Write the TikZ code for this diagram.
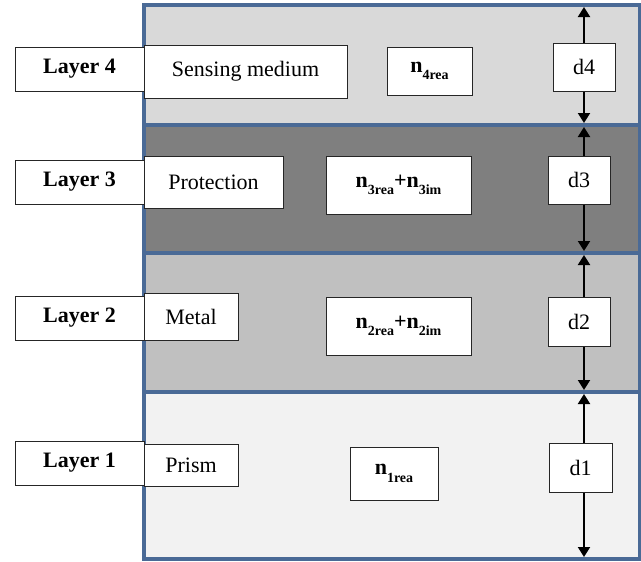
\documentclass[tikz,border=0pt]{standalone}
\usepackage{fontspec}
\setmainfont{Liberation Serif}
\usetikzlibrary{arrows.meta}
\definecolor{bordblue}{HTML}{4A6A96}
\definecolor{lay4}{HTML}{D9D9D9}
\definecolor{lay3}{HTML}{7F7F7F}
\definecolor{lay2}{HTML}{C0C0C0}
\definecolor{lay1}{HTML}{F2F2F2}
\newcommand{\nsub}[2]{\textbf{n}\raisebox{-0.75ex}{\fontsize{14}{14}\selectfont\bfseries #1}\textbf{#2}}
\tikzset{
  layer/.style={draw=bordblue, line width=3.6pt, inner sep=0pt, outer sep=0pt},
  wbox/.style={draw=black!85, line width=1pt, fill=white, inner sep=0pt, outer sep=0pt, font=\fontsize{22}{22}\selectfont},
  lbox/.style={wbox, font=\fontsize{22}{22}\selectfont\bfseries},
  nbox/.style={wbox, font=\fontsize{22}{22}\selectfont},
  darr/.style={{Triangle[length=10pt,width=12pt]}-{Triangle[length=10pt,width=12pt]}, line width=2pt, black},
}
\begin{document}
\begin{tikzpicture}[x=1pt,y=-1pt]
\useasboundingbox (0,0) rectangle (641,562);
% layers
\node[layer, fill=lay4, minimum width=496pt, minimum height=120pt] (L4) at (392,65) {};
\node[layer, fill=lay3, minimum width=496pt, minimum height=128pt] (L3) at (392,189) {};
\node[layer, fill=lay2, minimum width=496pt, minimum height=139pt] (L2) at (392,322.5) {};
\node[layer, fill=lay1, minimum width=496pt, minimum height=167pt] (L1) at (392,475.5) {};
% arrow end points
\coordinate (a4t) at (584,7);   \coordinate (a4b) at (584,123);
\coordinate (a3t) at (584,127); \coordinate (a3b) at (584,251);
\coordinate (a2t) at (584,255); \coordinate (a2b) at (584,390);
\coordinate (a1t) at (584,394); \coordinate (a1b) at (584,557);
\draw[darr] (a4t) -- (a4b);
\draw[darr] (a3t) -- (a3b);
\draw[darr] (a2t) -- (a2b);
\draw[darr] (a1t) -- (a1b);
% thickness boxes
\node[wbox, minimum width=62pt, minimum height=48pt] (d4) at (584,67) {d4};
\node[wbox, minimum width=62pt, minimum height=48pt] (d3) at (579,180) {d3};
\node[wbox, minimum width=62pt, minimum height=49pt] (d2) at (579,321.5) {d2};
\node[wbox, minimum width=63pt, minimum height=49pt] (d1) at (580.5,467.5) {d1};
% index boxes
\node[nbox, minimum width=85pt, minimum height=48pt] (n4) at (429.5,71) {\nsub{4rea}{}};
\node[nbox, minimum width=145pt, minimum height=58pt] (n3) at (398.5,185) {\nsub{3rea}{+}\nsub{3im}{}};
\node[nbox, minimum width=145pt, minimum height=58pt] (n2) at (398.5,326) {\nsub{2rea}{+}\nsub{2im}{}};
\node[nbox, minimum width=88pt, minimum height=53pt] (n1) at (394,473.5) {\nsub{1rea}{}};
% material boxes
\node[wbox, minimum width=203pt, minimum height=53pt] (m4) at (245.5,71.5) {Sensing medium};
\node[wbox, minimum width=139pt, minimum height=52pt] (m3) at (213.5,182) {Protection};
\node[wbox, minimum width=94pt, minimum height=47pt] (m2) at (191,316.5) {Metal};
\node[wbox, minimum width=94pt, minimum height=42pt] (m1) at (191,465) {Prism};
% layer labels
\node[lbox, minimum width=129pt, minimum height=44pt] (t4) at (79.5,69) {Layer 4};
\node[lbox, minimum width=129pt, minimum height=44pt] (t3) at (79.5,182) {Layer 3};
\node[lbox, minimum width=129pt, minimum height=44pt] (t2) at (79.5,318) {Layer 2};
\node[lbox, minimum width=129pt, minimum height=44pt] (t1) at (79.5,463) {Layer 1};
\end{tikzpicture}
\end{document}
